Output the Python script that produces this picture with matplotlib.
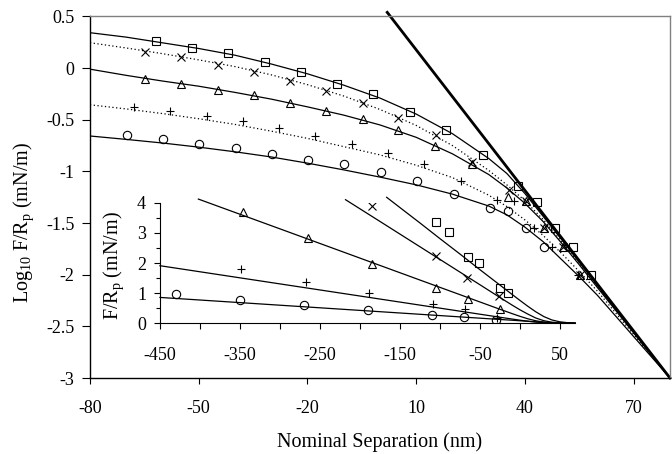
import matplotlib
matplotlib.use('Agg')
import matplotlib.pyplot as plt
from matplotlib.ticker import FixedLocator, MultipleLocator, FuncFormatter

plt.rcParams['font.family'] = ['Liberation Serif', 'DejaVu Serif']
plt.rcParams['mathtext.fontset'] = 'custom'
plt.rcParams['mathtext.rm'] = 'Liberation Serif'
plt.rcParams['mathtext.it'] = 'Liberation Serif:italic'
plt.rcParams['axes.unicode_minus'] = False
plt.rcParams['font.size'] = 13
plt.rcParams['axes.labelsize'] = 14.5

# ---- main plot: measured points (log10 F/Rp vs nominal separation) ----
sq_x = [-61.8, -51.8, -41.8, -31.7, -21.75, -11.8, -1.8, 8.3, 18.2, 28.3, 38.2, 43.3, 48.4, 53.3, 58.2]
sq_y = [0.259, 0.197, 0.149, 0.055, -0.036, -0.149, -0.255, -0.42, -0.602, -0.838, -1.146, -1.294, -1.55, -1.731, -2.003]

xx_x = [-64.8, -54.9, -44.7, -34.7, -24.9, -14.8, -4.8, 5.0, 15.4, 25.3, 35.7, 40.4, 45.3, 50.4, 55.3]
xx_y = [0.152, 0.104, 0.032, -0.036, -0.126, -0.22, -0.333, -0.48, -0.65, -0.91, -1.18, -1.29, -1.55, -1.73, -2.0]

tri_x = [-64.8, -54.8, -44.8, -34.8, -24.9, -14.8, -4.8, 5.0, 15.3, 25.3, 35.4, 40.4, 45.3, 50.4, 55.3]
tri_y = [-0.11, -0.149, -0.207, -0.262, -0.337, -0.417, -0.495, -0.602, -0.75, -0.929, -1.25, -1.29, -1.55, -1.73, -2.0]

pl_x = [-67.8, -57.9, -47.7, -37.8, -27.9, -17.8, -7.65, 2.2, 12.2, 22.3, 32.2, 37.1, 42.4, 47.4, 54.5]
pl_y = [-0.376, -0.417, -0.466, -0.511, -0.58, -0.657, -0.731, -0.818, -0.932, -1.09, -1.279, -1.29, -1.55, -1.73, -2.0]

ci_x = [-69.9, -59.9, -49.8, -39.8, -29.9, -19.8, -9.9, 0.2, 10.2, 20.3, 30.3, 35.2, 40.4, 45.3]
ci_y = [-0.65, -0.683, -0.731, -0.773, -0.832, -0.887, -0.929, -1.003, -1.097, -1.217, -1.356, -1.385, -1.55, -1.73]

# fitted curves
fit_x = [-80, -70, -60, -50, -40, -30, -20, -10, 0, 10, 20, 30, 35, 40, 45, 50, 55, 60, 70, 80]
fit_sq = [0.343, 0.30, 0.245, 0.19, 0.125, 0.04, -0.055, -0.165, -0.29, -0.445, -0.635, -0.875, -1.02, -1.215, -1.435, -1.655, -1.88, -2.105, -2.555, -3.0]
fit_xx = [0.246, 0.195, 0.14, 0.08, 0.015, -0.065, -0.16, -0.27, -0.4, -0.555, -0.75, -0.99, -1.13, -1.285, -1.465, -1.675, -1.895, -2.115, -2.56, -3.0]
fit_tri = [-0.01, -0.07, -0.125, -0.175, -0.235, -0.3, -0.375, -0.455, -0.55, -0.67, -0.83, -1.03, -1.16, -1.31, -1.485, -1.69, -1.905, -2.125, -2.565, -3.0]
fit_pl = [-0.355, -0.395, -0.44, -0.49, -0.545, -0.61, -0.68, -0.76, -0.84, -0.94, -1.06, -1.23, -1.34, -1.47, -1.62, -1.79, -1.97, -2.16, -2.58, -3.0]
fit_ci = [-0.657, -0.69, -0.725, -0.765, -0.81, -0.86, -0.92, -0.985, -1.055, -1.13, -1.22, -1.335, -1.42, -1.54, -1.68, -1.85, -2.02, -2.2, -2.6, -3.0]

steep_x = [2.0, 80.0]
steep_y = [0.54, -3.0]

# ---- inset: F/Rp vs separation ----
i_sq_x = [-105, -88.4, -65, -51.6, -25, -14.6]
i_sq_y = [3.37, 3.02, 2.2, 2.01, 1.18, 1.0]
i_xx_x = [-184.6, -105, -66, -26]
i_xx_y = [3.9, 2.24, 1.49, 0.9]
i_tri_x = [-345.9, -265.4, -185, -105, -65, -25]
i_tri_y = [3.70, 2.82, 1.97, 1.18, 0.82, 0.48]
i_pl_x = [-348.75, -267.5, -188.4, -108.4, -68.4, -29]
i_pl_y = [1.81, 1.38, 0.995, 0.64, 0.48, 0.19]
i_ci_x = [-430.4, -350, -270, -190, -110, -70, -30]
i_ci_y = [0.96, 0.77, 0.61, 0.43, 0.275, 0.2, 0.11]

il_sq_x = [-166.6, -150, -125, -100, -75, -50, -25, -10, 0, 10, 20, 30, 40, 50, 60, 69]
il_sq_y = [4.18, 3.84, 3.33, 2.81, 2.30, 1.78, 1.27, 0.964, 0.761, 0.564, 0.380, 0.223, 0.111, 0.049, 0.019, 0.008]
il_xx_x = [-218, -175, -150, -125, -100, -75, -50, -25, -10, 0, 10, 20, 30, 40, 50, 60, 69]
il_xx_y = [4.10, 3.38, 2.96, 2.54, 2.12, 1.70, 1.28, 0.858, 0.609, 0.449, 0.305, 0.174, 0.086, 0.037, 0.015, 0.006, 0.002]
il_tri_x = [-402, -300, -200, -150, -100, -75, -50, -25, -10, 0, 10, 20, 30, 40, 50, 60, 69]
il_tri_y = [4.12, 3.133, 2.163, 1.678, 1.193, 0.951, 0.708, 0.466, 0.324, 0.232, 0.149, 0.083, 0.039, 0.016, 0.006, 0.002, 0.001]
il_pl_x = [-450, -350, -250, -150, -100, -50, -25, -10, 0, 10, 20, 30, 40, 50, 60, 69]
il_pl_y = [1.91, 1.508, 1.106, 0.704, 0.503, 0.302, 0.201, 0.142, 0.104, 0.068, 0.039, 0.019, 0.008, 0.003, 0.001, 0.0005]
il_ci_x = [-450, -350, -250, -150, -100, -50, -25, -10, 0, 10, 20, 30, 40, 50, 60, 69]
il_ci_y = [0.858, 0.686, 0.514, 0.342, 0.256, 0.170, 0.127, 0.102, 0.084, 0.067, 0.051, 0.035, 0.021, 0.011, 0.005, 0.002]

fig = plt.figure(figsize=(6.72, 4.54), dpi=100)
ax = fig.add_axes([0.1339, 0.1674, 0.8631, 0.7963])

solid = dict(color='black', lw=0.9)
dotted = dict(color='black', lw=0.9, ls=(0, (1, 2)))
mk = dict(ls='none', mfc='none', mec='black', mew=0.8, ms=6, color='black')

ax.plot(fit_x, fit_sq, **solid)
ax.plot(fit_x, fit_xx, **dotted)
ax.plot(fit_x, fit_tri, **solid)
ax.plot(fit_x, fit_pl, **dotted)
ax.plot(fit_x, fit_ci, **solid)
ax.plot(steep_x, steep_y, color='black', lw=2.0, clip_on=False)

ax.plot(sq_x, sq_y, marker='s', **mk)
ax.plot(xx_x, xx_y, marker='x', **mk)
ax.plot(tri_x, tri_y, marker='^', **mk)
ax.plot(pl_x, pl_y, marker='+', **mk)
ax.plot(ci_x, ci_y, marker='o', **mk)

ax.set_xlim(-80, 80)
ax.set_ylim(-3, 0.5)
ax.xaxis.set_major_locator(FixedLocator([-80, -50, -20, 10, 40, 70]))
ax.yaxis.set_major_locator(MultipleLocator(0.5))
ax.yaxis.set_major_formatter(FuncFormatter(lambda v, p: '%g' % v))
ax.tick_params(axis='x', direction='out', length=4, width=0.8, pad=12)
ax.tick_params(axis='y', direction='out', length=6, width=0.8, pad=5)
for s in ['left', 'bottom']:
    ax.spines[s].set_linewidth(1.0)
for s in ['top', 'right']:
    ax.spines[s].set_color('#808080')
    ax.spines[s].set_linewidth(1.0)

ax.set_xlabel('Nominal Separation (nm)', va='top')
ax.xaxis.set_label_coords(0.5, -0.15)
ax.set_ylabel('Log$_{10}$ F/R$_\\mathrm{p}$ (mN/m)')
ax.yaxis.set_label_coords(-0.093, 0.43)

# inset
ax2 = fig.add_axes([0.2381, 0.2879, 0.6176, 0.2656])
ax2.patch.set_alpha(0)
ax2.plot(il_sq_x, il_sq_y, clip_on=False, **solid)
ax2.plot(il_xx_x, il_xx_y, clip_on=False, **solid)
ax2.plot(il_tri_x, il_tri_y, clip_on=False, **solid)
ax2.plot(il_pl_x, il_pl_y, clip_on=False, **solid)
ax2.plot(il_ci_x, il_ci_y, clip_on=False, **solid)
ax2.plot(i_sq_x, i_sq_y, marker='s', **mk)
ax2.plot(i_xx_x, i_xx_y, marker='x', **mk)
ax2.plot(i_tri_x, i_tri_y, marker='^', **mk)
ax2.plot(i_pl_x, i_pl_y, marker='+', **mk)
ax2.plot(i_ci_x, i_ci_y, marker='o', **mk)

ax2.set_xlim(-450, 69)
ax2.set_ylim(0, 4)
ax2.xaxis.set_major_locator(FixedLocator(list(range(-450, 51, 50))))
ax2.xaxis.set_major_formatter(FuncFormatter(lambda v, p: '%d' % v if (int(v) + 450) % 100 == 0 else ''))
ax2.yaxis.set_major_locator(MultipleLocator(1))
ax2.yaxis.set_minor_locator(MultipleLocator(0.5))
ax2.tick_params(axis='x', direction='out', length=4, width=0.8, pad=13)
ax2.tick_params(axis='y', which='major', direction='out', length=4, width=0.8, pad=6)
ax2.tick_params(axis='y', which='minor', direction='out', length=3, width=0.8)
ax2.spines['top'].set_visible(False)
ax2.spines['right'].set_visible(False)
ax2.set_ylabel('F/R$_\\mathrm{p}$ (mN/m)')
ax2.yaxis.set_label_coords(-0.082, 0.475)

fig.savefig('out.png', dpi=100)
